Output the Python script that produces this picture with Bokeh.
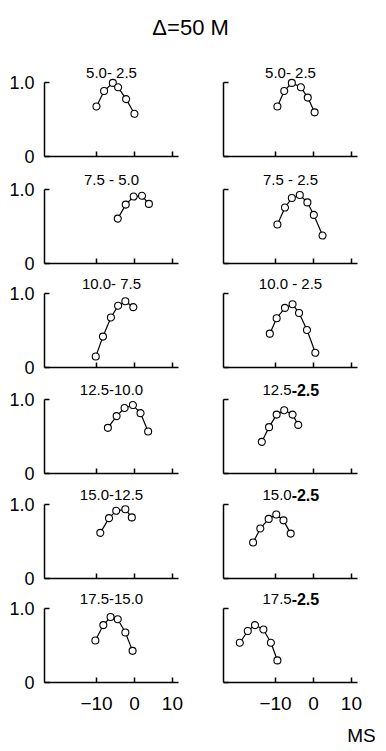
from bokeh.plotting import figure
from bokeh.models import FixedTicker, Range1d
from bokeh.layouts import column, row
from bokeh.embed import file_html
from bokeh.resources import INLINE
from bokeh.core.properties import value

FONT = "Liberation Sans"

# ---- data ----
left_titles = ["5.0- 2.5", "7.5 - 5.0", "10.0- 7.5", "12.5-10.0", "15.0-12.5", "17.5-15.0"]
right_titles = [("5.0- 2.5", ""), ("7.5 - 2.5", ""), ("10.0 - 2.5", ""),
                ("12.5", "-2.5"), ("15.0", "-2.5"), ("17.5", "-2.5")]

l1_x = [-10, -8, -5.7, -4.3, -2.2, 0]
l1_y = [0.68, 0.89, 1.0, 0.94, 0.78, 0.58]
r1_x = [-9.5, -7.7, -5.7, -3.3, -1.5, 0.3]
r1_y = [0.68, 0.89, 1.0, 0.94, 0.80, 0.60]

l2_x = [-4.4, -2.3, -0.2, 2.0, 3.8]
l2_y = [0.61, 0.80, 0.91, 0.92, 0.81]
r2_x = [-9.5, -7.5, -5.7, -3.6, -1.6, 0.1, 2.4]
r2_y = [0.53, 0.76, 0.89, 0.93, 0.83, 0.66, 0.38]

l3_x = [-10.2, -8.3, -6.2, -4.3, -2.4, -0.3]
l3_y = [0.15, 0.42, 0.68, 0.84, 0.90, 0.82]
r3_x = [-11.5, -9.7, -7.5, -5.5, -3.8, -1.7, 0.5]
r3_y = [0.46, 0.67, 0.81, 0.86, 0.74, 0.51, 0.20]

l4_x = [-7.0, -4.7, -2.6, -0.4, 1.6, 3.6]
l4_y = [0.62, 0.78, 0.89, 0.93, 0.82, 0.57]
r4_x = [-13.6, -11.7, -9.7, -7.7, -5.5, -4.0]
r4_y = [0.43, 0.63, 0.80, 0.86, 0.80, 0.66]

l5_x = [-9.0, -6.7, -4.8, -2.4, -0.7]
l5_y = [0.62, 0.82, 0.92, 0.94, 0.83]
r5_x = [-15.9, -14.0, -11.8, -9.8, -7.9, -6.0]
r5_y = [0.49, 0.68, 0.81, 0.87, 0.79, 0.61]

l6_x = [-10.3, -8.2, -6.3, -4.4, -2.4, -0.5]
l6_y = [0.57, 0.78, 0.89, 0.86, 0.68, 0.43]
r6_x = [-19.4, -17.3, -15.4, -13.2, -11.2, -9.5]
r6_y = [0.54, 0.70, 0.78, 0.72, 0.54, 0.30]

left_data = [(l1_x, l1_y), (l2_x, l2_y), (l3_x, l3_y), (l4_x, l4_y), (l5_x, l5_y), (l6_x, l6_y)]
right_data = [(r1_x, r1_y), (r2_x, r2_y), (r3_x, r3_y), (r4_x, r4_y), (r5_x, r5_y), (r6_x, r6_y)]

x_ticks = [-10, 0, 10]
y_ticks = [0, 1]
y_labels = {0: "0", 1: "1.0"}

main_title = "Δ=50 M"
x_unit = "MS"

# ---- layout constants ----
X0, X1 = -23.7, 11.6
Y0, Y1 = 0.0, 1.25
FW, FH = 134, 92
bottom_borders = [15, 12, 14, 13, 12, 30]
XC = (X0 + X1) / 2
TITLE_Y = 1.135


def style_axis(ax, ticks, show_labels, size, standoff):
    ax.ticker = FixedTicker(ticks=ticks)
    ax.major_tick_in = 5
    ax.major_tick_out = 0
    ax.minor_tick_line_color = None
    ax.axis_line_width = 1.5
    ax.major_tick_line_width = 1.5
    ax.axis_line_color = "black"
    ax.major_tick_line_color = "black"
    if show_labels:
        ax.major_label_text_font = FONT
        ax.major_label_text_font_size = size
        ax.major_label_text_color = "black"
        ax.major_label_standoff = standoff
    else:
        ax.major_label_text_font_size = "1px"
        ax.major_label_text_color = None
        ax.major_label_standoff = 0


def make_panel(xs, ys, is_left, is_bottom, bb):
    p = figure(frame_width=FW, frame_height=FH,
               x_range=Range1d(X0, X1), y_range=Range1d(Y0, Y1),
               min_border_left=44 if is_left else 23,
               min_border_right=22 if is_left else 27,
               min_border_top=0, min_border_bottom=bb,
               output_backend="svg", toolbar_location=None)
    p.outline_line_color = None
    p.grid.visible = False
    p.background_fill_color = "white"
    p.border_fill_color = "white"

    style_axis(p.xaxis[0], x_ticks, is_bottom, "19px", 14)
    ay = p.yaxis[0]
    style_axis(ay, y_ticks, is_left, "18px", 10)
    ay.bounds = (0, 1)
    if is_left:
        ay.major_label_overrides = y_labels

    p.line(xs, ys, line_color="black", line_width=1.2)
    p.scatter(xs, ys, size=7, fill_color="white", line_color="black", line_width=1.1)
    return p


def add_title(p, x, txt, align, bold=False):
    p.text(x=[x], y=[TITLE_Y], text=[txt], text_font=value(FONT),
           text_font_size="16px" if bold else "15px",
           text_font_style="bold" if bold else "normal",
           text_align=align, text_baseline="middle", text_color="black")


rows = []
for i in range(6):
    is_bottom = i == 5
    bb = bottom_borders[i]
    lp = make_panel(*left_data[i], True, is_bottom, bb)
    add_title(lp, XC, left_titles[i], "center")
    rp = make_panel(*right_data[i], False, is_bottom, bb)
    t_norm, t_bold = right_titles[i]
    if t_bold:
        split = XC + 0.3
        add_title(rp, split, t_norm, "right")
        add_title(rp, split, t_bold, "left", bold=True)
    else:
        add_title(rp, XC, t_norm, "center")
    rows.append(row(lp, rp))


def text_strip(height, tx, ty, txt, size, align):
    f = figure(width=384, height=height, x_range=Range1d(0, 1), y_range=Range1d(0, 1),
               x_axis_type=None, y_axis_type=None, min_border=0,
               output_backend="svg", toolbar_location=None)
    f.outline_line_color = None
    f.grid.visible = False
    f.text(x=[tx], y=[ty], text=[txt], text_font=value(FONT),
           text_font_size=size, text_align=align, text_baseline="middle",
           text_color="black")
    return f


tf = text_strip(64, 0.495, 1 - 27 / 64, main_title, "22px", "center")
mf = text_strip(36, 0.903, 1 - 23 / 36, x_unit, "19px", "left")

layout = column(tf, *rows, mf)
open("out.html", "w").write(file_html(layout, INLINE))
